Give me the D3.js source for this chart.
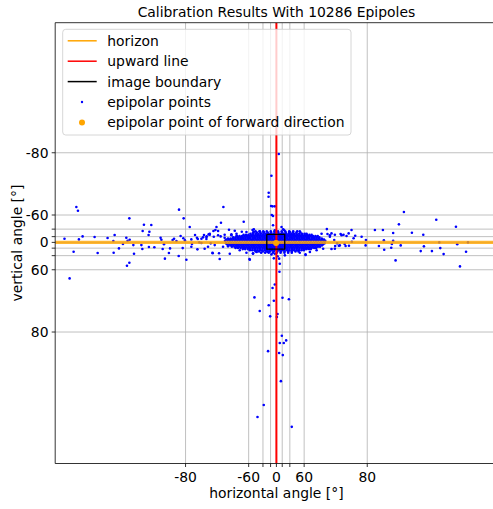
<!DOCTYPE html>
<html><head><meta charset="utf-8">
<script src="https://cdn.jsdelivr.net/npm/d3@7"></script>
<style>
body{margin:0;background:#fff}
svg{display:block}
text{font-family:"DejaVu Sans",sans-serif;font-size:13.9px;fill:#000}
</style>
</head><body>
<svg id="c" width="493" height="509"></svg>
<script>
// ---------- data ----------
const titleText = "Calibration Results With 10286 Epipoles";
const xLabelText = "horizontal angle [°]";
const yLabelText = "vertical angle [°]";
const tickAngles = [-80, -60, -40, -20, 0, 20, 40, 60, 80];
const labeledAngles = [-80, -60, 0, 60, 80];
const legendLabels = ["horizon", "upward line", "image boundary", "epipolar points", "epipolar point of forward direction"];
// projected (tan) coordinates
const horizonV = 0.0;
const upwardU = 0.0;
const imageBoundary = [[-0.60,-0.51],[0.52,-0.51],[0.52,0.42],[-0.60,0.42],[-0.60,-0.51]];
const forwardPoint = [-0.02, 0.04];
const scatterPoints = [
[-12.49,-2.24],[-12.39,-2.00],[-13.23,-0.23],[-12.33,-0.19],[-12.10,-0.38],[-12.66,0.59],[-12.91,2.28],
[-11.35,-0.34],[-11.16,0.67],[-10.54,-0.28],[-10.10,-0.47],[-10.18,-0.09],[-10.16,0.66],[-9.83,0.38],
[-9.37,-0.29],[-9.29,-0.10],[-9.16,-0.17],[-9.18,-1.52],[-9.33,1.48],[-9.18,1.29],[-8.89,0.72],[-8.93,0.17],
[-9.58,0.10],[-8.43,0.17],[-8.37,0.42],[-8.27,-1.12],[-7.81,-1.10],[-8.35,-0.72],[-7.93,-0.67],[-7.98,-0.47],
[-7.62,0.31],[-7.96,0.29],[-7.23,-0.29],[-7.18,-0.17],[-7.10,0.42],[-6.96,1.03],[-7.02,0.12],[-6.71,0.67],
[-6.64,0.38],[-6.48,-0.15],[-6.39,-0.23],[-6.24,-0.09],[-6.08,-2.07],[-5.79,-1.52],[-5.41,-0.97],[-6.10,0.86],
[-5.85,0.36],[-5.62,1.10],[-5.98,-0.40],[-5.81,-0.26],[-5.71,-0.13],[-5.31,-0.19],[-5.08,-0.47],[-4.96,-0.29],
[-5.27,0.10],[-5.31,0.28],[-4.93,0.44],[-4.52,-0.47],[-4.35,-0.38],[-4.16,-0.55],[-3.99,0.66],[-3.93,-0.72],
[-4.27,0.28],[-4.68,0.04],
[-3.31,-2.24],[-2.04,-1.31],[-3.46,-1.24],[-3.74,-0.97],[-3.81,-0.78],[-3.64,-0.72],[-2.96,-0.80],[-2.60,-0.74],
[-2.16,-0.67],[-1.49,-0.78],[-1.41,-0.67],[-0.79,-0.64],[-0.10,-0.76],[0.48,-0.78],[3.15,-0.84],[3.44,-0.57],
[4.01,-0.53],[4.69,-0.78],[4.82,-0.26],[4.53,0.21],[4.26,0.10],[3.90,0.21],[3.67,0.23],[3.44,0.42],[1.82,0.76],
[1.84,0.40],[-1.68,1.05],[-1.46,0.69],[-1.23,0.61],[-3.54,1.05],[-3.58,0.69],[-3.98,0.69],[-4.48,0.40],
[-4.81,0.00],[-4.91,-0.21],[-4.58,-0.32],[-4.23,-0.51],[-4.37,-0.21],[-3.91,-0.36],[-4.10,0.06],[-3.85,0.17],
[-3.33,0.28],[-3.02,0.25],[-3.23,-0.29],[-3.48,-0.38],[-2.81,-0.51],[-2.49,-0.42],[-2.18,-0.26],
[2.82,-0.55],[3.34,-0.45],[3.65,-0.48],[4.07,-0.45],[4.38,-0.40],[3.96,0.19],[4.32,0.23],[3.65,0.40],[2.92,0.40],
[2.51,0.50],[2.09,0.61],[1.46,0.66],[0.53,0.82],[0.17,1.03],[-0.10,0.72],[-0.31,0.76],[-0.52,0.61],[-1.46,0.72],
[-1.87,0.66],[-2.29,0.50],[-2.91,0.72],[-0.21,-1.08],[0.32,-0.97],[0.84,-0.66],[1.46,-0.70],[1.88,-0.55],
[1.04,-0.48],[-1.04,-0.70],[-1.46,-0.59],[-1.87,-0.66],[-2.49,-0.55],[-2.81,-0.45],[-3.23,-0.48],[-3.64,-0.45],
[-4.16,-0.48],[-4.37,-0.34],[-4.68,-0.23],
[7.96,-1.92],[9.98,-1.43],[11.21,-0.99],[7.65,-1.14],[6.65,-0.78],[6.15,-0.78],[7.29,-0.59],[8.46,-0.61],
[9.17,-0.48],[6.71,-0.13],[7.29,-0.10],[7.21,0.10],[7.76,0.19],[6.73,0.47],[7.17,0.34],[9.01,0.55],[9.21,0.25],
[9.71,0.55],[10.23,0.36],[10.44,0.74],[11.29,0.12],[11.84,0.59],[7.44,1.14],[11.46,1.52],[10.17,0.00],[11.96,0.00],
[5.59,-0.15],[5.57,0.19],[6.40,0.23],[5.32,-0.36],[4.92,-0.42],[4.51,-0.57],[4.19,-0.48],[4.71,-0.04],[3.61,-0.15],
[3.34,-0.36],[3.19,-0.53],[3.79,0.06],
[0.15,-5.59],[-0.31,-4.22],[-0.48,-3.14],[-0.49,-2.89],[-0.33,-2.30],[-0.24,-2.28],[-0.10,-2.28],[-0.29,-1.73],
[-0.21,-1.67],[-1.41,-0.83],[0.42,-0.83],
[-1.66,1.10],[-0.16,1.01],[0.07,0.88],[0.21,1.35],[0.19,1.86],[-0.10,2.66],[-0.24,2.89],[-1.37,3.48],[0.38,3.50],
[0.78,3.60],[-0.16,3.69],[-0.48,3.98],[-1.04,4.34],[0.07,4.53],[-0.39,4.68],[0.03,4.72],[0.34,5.91],[0.61,6.20],
[0.21,6.37],[0.46,6.37],[-0.52,6.88],[0.17,7.00],[0.40,7.13],[0.28,8.78],[-0.79,10.29],[-1.18,11.05],[0.96,11.67],
[1.82,0.80]
];
// dense core of the cloud, read row by row (v) with the horizontal positions (u) in each row
const coreV = [-0.70, -0.625, -0.55, -0.475, -0.40, -0.325, -0.25, -0.175, -0.10, 0.05, 0.125, 0.20, 0.275, 0.35, 0.425, 0.50, 0.575, 0.65];
const coreU = [
[-1.30,-1.05,-0.82,-0.60,-0.35,-0.12,0.10,0.33,0.55,0.80,1.05,1.30],
[-1.45,-1.22,-1.00,-0.78,-0.55,-0.33,-0.10,0.12,0.35,0.58,0.80,1.03,1.25,1.50],
[-1.62,-1.45,-1.28,-1.12,-0.97,-0.80,-0.65,-0.48,-0.33,-0.17,-0.02,0.14,0.30,0.45,0.61,0.77,0.93,1.10,1.25,1.42,1.60,1.76],
[-2.05,-1.90,-1.75,-1.60,-1.45,-1.30,-1.15,-1.00,-0.84,-0.69,-0.54,-0.39,-0.24,-0.08,0.07,0.22,0.38,0.53,0.68,0.84,0.99,1.14,1.30,1.45,1.60,1.76,1.91,2.06,2.20],
[-2.45,-2.30,-2.14,-1.99,-1.84,-1.69,-1.53,-1.38,-1.22,-1.07,-0.92,-0.77,-0.61,-0.46,-0.31,-0.16,0.00,0.15,0.30,0.46,0.61,0.76,0.92,1.07,1.22,1.37,1.53,1.68,1.83,1.98,2.14,2.29,2.44,2.58],
[-2.70,-2.55,-2.39,-2.24,-2.09,-1.93,-1.78,-1.63,-1.47,-1.32,-1.17,-1.01,-0.86,-0.71,-0.55,-0.40,-0.25,-0.09,0.06,0.21,0.37,0.52,0.67,0.83,0.98,1.13,1.29,1.44,1.59,1.75,1.90,2.05,2.21,2.36,2.51,2.68],
[-3.02,-2.86,-2.71,-2.56,-2.40,-2.25,-2.09,-1.94,-1.79,-1.64,-1.48,-1.33,-1.18,-1.02,-0.87,-0.72,-0.56,-0.41,-0.26,-0.10,0.05,0.20,0.36,0.51,0.66,0.82,0.97,1.12,1.28,1.43,1.58,1.74,1.89,2.04,2.20,2.35,2.50,2.66,2.83],
[-3.13,-2.97,-2.82,-2.67,-2.51,-2.36,-2.21,-2.05,-1.90,-1.75,-1.59,-1.44,-1.29,-1.13,-0.98,-0.83,-0.67,-0.52,-0.37,-0.21,-0.06,0.09,0.25,0.40,0.55,0.71,0.86,1.01,1.17,1.32,1.47,1.63,1.78,1.93,2.09,2.24,2.39,2.55,2.70,2.86,2.97],
[-3.21,-3.05,-2.90,-2.75,-2.59,-2.44,-2.29,-2.13,-1.98,-1.83,-1.67,-1.52,-1.37,-1.21,-1.06,-0.91,-0.75,-0.60,-0.45,-0.29,-0.14,0.02,0.17,0.32,0.48,0.63,0.78,0.94,1.09,1.24,1.40,1.55,1.70,1.86,2.01,2.16,2.32,2.47,2.62,2.78,2.93,3.05],
[-3.15,-2.98,-2.82,-2.67,-2.51,-2.36,-2.21,-2.05,-1.90,-1.75,-1.59,-1.44,-1.29,-1.13,-0.98,-0.83,-0.67,-0.52,-0.37,-0.21,-0.06,0.09,0.25,0.40,0.55,0.71,0.86,1.01,1.17,1.32,1.47,1.63,1.78,1.93,2.09,2.24,2.39,2.55,2.70,2.86,3.01],
[-3.08,-2.92,-2.77,-2.62,-2.46,-2.31,-2.16,-2.00,-1.85,-1.70,-1.54,-1.39,-1.24,-1.08,-0.93,-0.78,-0.62,-0.47,-0.32,-0.16,-0.01,0.14,0.30,0.45,0.60,0.76,0.91,1.06,1.22,1.37,1.52,1.68,1.83,1.98,2.14,2.29,2.44,2.60,2.75,2.92],
[-3.00,-2.84,-2.69,-2.53,-2.38,-2.23,-2.07,-1.92,-1.77,-1.61,-1.46,-1.31,-1.15,-1.00,-0.85,-0.69,-0.54,-0.39,-0.23,-0.08,0.07,0.23,0.38,0.53,0.69,0.84,0.99,1.15,1.30,1.45,1.61,1.76,1.91,2.07,2.22,2.37,2.53,2.68,2.84],
[-2.78,-2.62,-2.47,-2.32,-2.16,-2.01,-1.86,-1.70,-1.55,-1.40,-1.24,-1.09,-0.94,-0.78,-0.63,-0.48,-0.32,-0.17,-0.02,0.14,0.29,0.44,0.60,0.75,0.90,1.06,1.21,1.36,1.52,1.67,1.82,1.98,2.13,2.28,2.44,2.59,2.72],
[-2.55,-2.40,-2.24,-2.09,-1.94,-1.78,-1.63,-1.48,-1.32,-1.17,-1.02,-0.86,-0.71,-0.56,-0.40,-0.25,-0.10,0.06,0.21,0.36,0.52,0.67,0.82,0.98,1.13,1.28,1.44,1.59,1.74,1.90,2.05,2.20,2.36,2.48],
[-2.10,-1.95,-1.79,-1.64,-1.49,-1.33,-1.18,-1.03,-0.87,-0.72,-0.57,-0.41,-0.26,-0.11,0.05,0.20,0.35,0.51,0.66,0.81,0.97,1.12,1.27,1.43,1.58,1.73,1.89,2.04,2.15],
[-1.66,-1.50,-1.35,-1.19,-1.04,-0.89,-0.73,-0.58,-0.43,-0.27,-0.12,0.03,0.19,0.34,0.49,0.65,0.80,0.95,1.11,1.26,1.41,1.57,1.72],
[-1.30,-1.08,-0.85,-0.62,-0.40,-0.17,0.06,0.28,0.51,0.74,0.96,1.19,1.38],
[-0.95,-0.70,-0.48,-0.22,0.02,0.26,0.50,0.73,0.96]
];

// ---------- drawing ----------
const svg = d3.select("#c");
const L = 55.2, R = 497.6, T = 22.7, B = 463.5;
const x = d3.scaleLinear().domain([-13.81, 13.81]).range([L, R]);
const y = d3.scaleLinear().domain([-13.9, 13.99]).range([T, B]);
const proj = a => Math.tan(a * Math.PI / 180);

svg.append("defs").append("clipPath").attr("id", "clip")
  .append("rect").attr("x", L).attr("y", T).attr("width", R - L).attr("height", B - T);
const plot = svg.append("g").attr("clip-path", "url(#clip)");

// grid
plot.append("g").selectAll("line").data(tickAngles).join("line")
  .attr("x1", d => x(proj(d))).attr("x2", d => x(proj(d))).attr("y1", T).attr("y2", B)
  .attr("stroke", "#b0b0b0").attr("stroke-width", 0.8);
plot.append("g").selectAll("line").data(tickAngles).join("line")
  .attr("y1", d => y(proj(d))).attr("y2", d => y(proj(d))).attr("x1", L).attr("x2", R)
  .attr("stroke", "#b0b0b0").attr("stroke-width", 0.8);

// points
const corePoints = coreV.flatMap((v, i) => coreU[i].map(u => [u, v]));
const allPts = corePoints.concat(scatterPoints);
plot.append("g").selectAll("circle").data(allPts).join("circle")
  .attr("cx", d => x(d[0])).attr("cy", d => y(d[1])).attr("r", 1.3).attr("fill", "#0000ff");

// horizon
plot.append("line").attr("x1", L).attr("x2", R).attr("y1", y(horizonV)).attr("y2", y(horizonV))
  .attr("stroke", "#ffa500").attr("stroke-width", 3.3).attr("stroke-opacity", 0.8);
// upward line
plot.append("line").attr("x1", x(upwardU)).attr("x2", x(upwardU)).attr("y1", T).attr("y2", B)
  .attr("stroke", "#ff0000").attr("stroke-width", 2);
// image boundary
plot.append("path").datum(imageBoundary)
  .attr("d", d3.line().x(d => x(d[0])).y(d => y(d[1])))
  .attr("fill", "none").attr("stroke", "#000").attr("stroke-width", 1.3);
// forward point
plot.append("circle").attr("cx", x(forwardPoint[0])).attr("cy", y(forwardPoint[1])).attr("r", 3)
  .attr("fill", "#ffa500");

// spines
svg.append("line").attr("x1", L).attr("x2", L).attr("y1", T).attr("y2", B).attr("stroke", "#000").attr("stroke-width", 0.8);
svg.append("line").attr("x1", L).attr("x2", R).attr("y1", T).attr("y2", T).attr("stroke", "#000").attr("stroke-width", 0.8);
svg.append("line").attr("x1", L).attr("x2", R).attr("y1", B).attr("y2", B).attr("stroke", "#000").attr("stroke-width", 0.8);

// ticks
svg.append("g").selectAll("line").data(tickAngles).join("line")
  .attr("x1", d => x(proj(d))).attr("x2", d => x(proj(d))).attr("y1", B).attr("y2", B + 3.5)
  .attr("stroke", "#000").attr("stroke-width", 0.8);
svg.append("g").selectAll("line").data(tickAngles).join("line")
  .attr("y1", d => y(proj(d))).attr("y2", d => y(proj(d))).attr("x1", L).attr("x2", L - 3.5)
  .attr("stroke", "#000").attr("stroke-width", 0.8);
svg.append("g").selectAll("text").data(labeledAngles).join("text")
  .attr("x", d => x(proj(d))).attr("y", 482).attr("text-anchor", "middle").text(d => String(d));
svg.append("g").selectAll("text").data(labeledAngles).join("text")
  .attr("x", 48.5).attr("y", d => y(proj(d)) + 5).attr("text-anchor", "end").text(d => String(d));

// labels
svg.append("text").attr("x", (L + R) / 2).attr("y", 16.5).attr("text-anchor", "middle").text(titleText);
svg.append("text").attr("x", (L + R) / 2).attr("y", 498).attr("text-anchor", "middle").text(xLabelText);
svg.append("text").attr("transform", `translate(21.5,${(T + B) / 2}) rotate(-90)`).attr("text-anchor", "middle").text(yLabelText);

// legend
const lg = svg.append("g");
lg.append("rect").attr("x", 62.7).attr("y", 29.3).attr("width", 288.3).attr("height", 105.7).attr("rx", 3)
  .attr("fill", "#fff").attr("fill-opacity", 0.8).attr("stroke", "#cccccc").attr("stroke-width", 0.8);
const rowY = i => 40.8 + i * 20.4;
const lineColors = ["#ffa500", "#ff0000", "#000000"];
lineColors.forEach((c, i) => {
  lg.append("line").attr("x1", 67.7).attr("x2", 96.7).attr("y1", rowY(i)).attr("y2", rowY(i))
    .attr("stroke", c).attr("stroke-width", 1.5);
});
lg.append("circle").attr("cx", 82).attr("cy", rowY(3)).attr("r", 1.2).attr("fill", "#0000ff");
lg.append("circle").attr("cx", 82).attr("cy", rowY(4)).attr("r", 3).attr("fill", "#ffa500");
legendLabels.forEach((t, i) => {
  lg.append("text").attr("x", 107.3).attr("y", rowY(i) + 5).text(t);
});
</script>
</body></html>
